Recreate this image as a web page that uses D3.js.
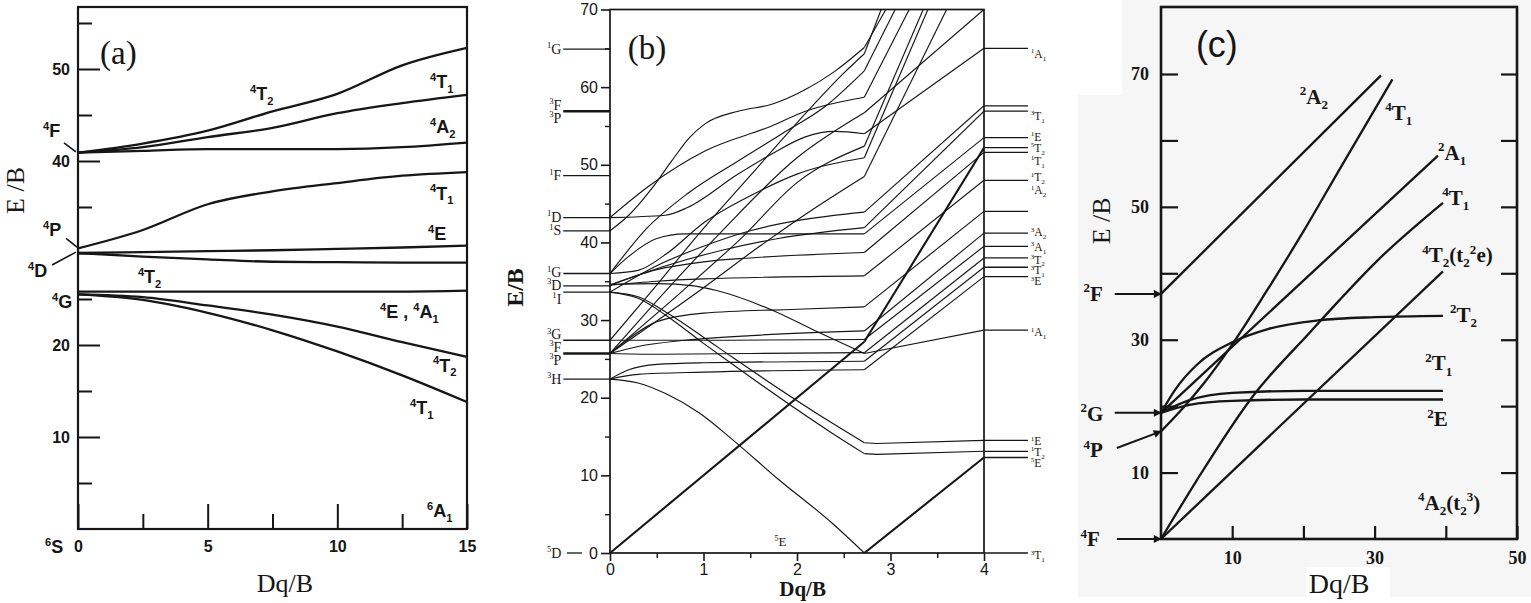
<!DOCTYPE html>
<html>
<head>
<meta charset="utf-8">
<script src="https://cdn.jsdelivr.net/npm/d3@7"></script>
<style>
  body { margin: 0; background: #fff; }
  svg { display: block; }
</style>
</head>
<body>
<div id="chart"></div>
<script>
// ---------- (a) d5 : E/B against Dq/B ----------
const a_dq = [0, 2.5, 5, 7.5, 10, 12.5, 15];
const a_4T2_F = [40.9, 41.9, 43.3, 45.4, 47.3, 50.4, 52.3];
const a_4T1_F = [40.9, 41.5, 42.6, 43.6, 45.2, 46.3, 47.2];
const a_4A2_F = [40.9, 41.1, 41.3, 41.3, 41.3, 41.5, 42.0];
const a_4T1_P = [30.5, 32.5, 35.3, 36.7, 37.6, 38.4, 38.8];
const a_4E_D  = [30.0, 30.1, 30.2, 30.3, 30.45, 30.6, 30.8];
const a_4T2_D = [30.0, 29.6, 29.3, 29.05, 29.0, 28.95, 28.95];
const a_4E4A1_G = [25.8, 25.8, 25.8, 25.8, 25.8, 25.8, 25.9];
const a_4T2_G = [25.5, 25.2, 24.3, 23.3, 22.0, 20.3, 18.7];
const a_4T1_G = [25.5, 24.9, 23.5, 21.6, 19.3, 16.7, 13.8];
const a_yMajor = [10, 20, 30, 40, 50];
const a_yLabeled = [10, 20, 40, 50];
const a_yMinor = [5, 15, 25, 35, 45, 55];
const a_xMajor = [0, 5, 10, 15];
const a_xMinor = [2.5, 7.5, 12.5];

// ---------- (b) d6 ----------
const KINK = 2.72;
const b_leftTerms  = ["^1G", "^3F", "^3P", "^1F", "^1D", "^1S", "^1G", "^3D", "^1I", "^3G", "^3F", "^3P", "^3H", "^5D"];
const b_leftTermE  = [64.9, 57.7, 56.0, 48.6, 43.2, 41.5, 36.1, 34.5, 32.7, 28.1, 26.5, 24.8, 22.4, 0];
const b_leftLevels = [64.9, 56.9, 48.6, 43.2, 41.5, 36.0, 34.4, 33.6, 27.4, 25.7, 22.4];
const b_leftPairs  = [56.9, 25.7];   // two terms on one level
const b_rightLevels = [65.0, 57.6, 56.9, 53.5, 52.2, 51.6, 48.0, 44.0, 41.2, 39.5, 38.0, 36.8, 35.6, 28.7, 14.5, 13.1, 12.3, 0];
const b_rightTerms = ["^1A_1", "^3T_1", "^1E", "^5T_2", "^1T_1", "^1T_2", "^1A_2", "^3A_2", "^3A_1", "^3T_2", "^3T_1", "^3E", "^1A_1", "^1E", "^1T_2", "^5E", "^3T_1"];
const b_rightTermE = [64.3, 56.3, 53.6, 52.2, 50.5, 48.4, 46.7, 41.3, 39.4, 37.8, 36.4, 35.0, 28.4, 14.4, 13.0, 11.6, -0.3];
const b_yMajor = [0, 10, 20, 30, 40, 50, 60, 70];
const b_yMinor = [5, 15, 25, 35, 45, 55, 65];
const b_xMajor = [0, 1, 2, 3, 4];
const b_xMinor = [0.5, 1.5, 2.5, 3.5];

const b_quintet = [
  [[0, 0], [4, 0]],
  [[0, 0], [2.72, 27.2], [4, 52.2]],
  [[2.72, 0], [4, 12.3]]
];
const b_lowLines = [
  [[0, 22.4], [0.3, 21.9], [0.6, 20.5], [0.96, 18.0], [1.31, 14.6], [1.8, 9.5], [2.38, 3.8], [2.72, 0]],
  [[0, 22.4], [0.3, 23.0], [1, 23.3], [2.72, 23.6], [4, 35.6]],
  [[0, 22.4], [0.2, 23.6], [0.5, 24.3], [1, 24.5], [2.72, 24.7], [4, 36.8]],
  [[0, 25.7], [0.5, 25.6], [1.5, 25.7], [2.72, 25.8], [4, 38.0]],
  [[0, 27.4], [1.0, 27.4], [2.72, 27.5], [4, 39.5]],
  [[0, 25.7], [0.3, 26.6], [0.8, 27.4], [1.5, 28.0], [2.72, 28.6], [4, 41.2]],
  [[0, 25.7], [0.2, 27.6], [0.5, 29.8], [1, 30.9], [2, 31.4], [2.72, 31.7], [4, 44.0]]
];
const b_fallingLines = [
  [[0, 34.6], [0.5, 34.7], [0.9, 34.4], [1.14, 33.8], [1.73, 31.3], [2.2, 28.6], [2.72, 25.7], [4, 28.7]],
  [[0, 33.6], [0.3, 33.0], [0.6, 31.0], [1.0, 27.8], [1.31, 25.2], [2.38, 16.7], [2.72, 14.2], [2.85, 14.1], [4, 14.5]],
  [[0, 33.6], [0.3, 32.8], [0.6, 30.6], [1.0, 27.0], [1.31, 24.3], [2.38, 15.4], [2.72, 12.8], [2.85, 12.7], [4, 13.1]]
];
const b_midLines = [
  [[0, 36.0], [0.2, 38.2], [0.5, 40.5], [0.8, 41.1], [2.72, 41.1], [4, 53.5]],
  [[0, 34.5], [0.5, 36.5], [1.0, 37.5], [1.5, 38.0], [2.72, 38.7], [4, 51.6]],
  [[0, 34.5], [0.5, 35.0], [1, 35.3], [2.72, 35.7], [4, 48.0]],
  [[0, 33.6], [0.5, 37], [1, 39.5], [1.5, 41.5], [2.0, 42.8], [2.72, 43.9], [4, 57.6]],
  [[0, 34.5], [0.6, 37], [1.2, 39], [1.8, 40.5], [2.72, 41.9], [4, 56.9]]
];
const b_upperLines = [
  [[0, 41.5], [0.2, 43.5], [0.45, 47], [0.66, 50.5], [0.85, 53.5], [1.02, 55.3], [1.37, 56.9], [1.73, 57.8], [2.09, 59.7], [2.4, 62], [2.72, 65.1], [2.95, 70]],
  [[0, 43.2], [0.59, 43.5], [0.83, 44.5], [1.37, 48.8], [1.73, 51.4], [2.09, 53.6], [2.4, 54.3], [2.72, 54.0], [4, 65.0]],
  [[0, 43.2], [0.41, 47.2], [1.02, 51.8], [1.73, 55.0], [2.09, 56.9], [2.72, 58.7], [3.2, 70]],
  [[0, 36.0], [0.4, 41.9], [0.83, 46.3], [1.37, 50.5], [1.84, 54], [2.3, 57.5], [2.72, 62.1], [3.05, 70]],
  [[0, 36.0], [0.3, 36.4], [0.6, 38.5], [1.0, 42.5], [1.5, 46.0], [2.0, 48.8], [2.72, 50.9], [3.4, 70]]
];
const b_steepLines = [
  [[0, 27.4], [0.45, 33.8], [1.0, 41.8], [1.5, 48.6], [2.0, 55.4], [2.5, 61.8], [2.72, 64.3], [2.9, 70]],
  [[0, 25.7], [0.6, 33.8], [1.2, 41.5], [2.0, 50.9], [2.72, 56.7], [4, 70]],
  [[0, 25.7], [0.78, 33.8], [1.4, 40.5], [2.0, 47.7], [2.72, 52.4], [3.35, 70]],
  [[0, 25.7], [0.96, 33.8], [1.6, 39.5], [2.2, 44.5], [2.72, 48.5], [3.6, 70]]
];

// ---------- (c) d3 ----------
const c_2A2  = [[0, 36.9], [30.9, 69.8]];
const c_4T1P = [[0, 16.2], [3, 19.6], [6, 23.4], [9.7, 28.8], [15, 37.6], [20, 46.3], [25, 55.5], [32.5, 69.2]];
const c_2A1  = [[0, 19.0], [38.9, 57.7]];
const c_4T1F = [[0, 0], [5, 8.8], [12.9, 21.5], [21, 31.2], [25.1, 36], [30, 41.5], [39.6, 50.6]];
const c_4T2  = [[0, 0], [39.6, 40.3]];
const c_2T2  = [[0, 19.0], [2, 22.5], [5, 26.2], [10, 29.6], [15, 31.6], [22, 32.9], [30, 33.4], [39.6, 33.6]];
const c_2T1  = [[0, 19.0], [4, 20.9], [10, 22.0], [20, 22.3], [39.6, 22.3]];
const c_2E   = [[0, 19.0], [4, 20.2], [10, 20.8], [20, 21.0], [39.6, 21.0]];
const c_yTicks = [10, 20, 30, 40, 50, 60, 70];
const c_yLabeled = [10, 30, 50, 70];
const c_xTicks = [10, 20, 30, 40, 50];
const c_xLabeled = [10, 30, 50];

// annotations (text placed in data units of each panel)
const a_notes = [
  ["^4T_2", 6.63, 46.6], ["^4T_1", 13.57, 47.9], ["^4A_2", 13.57, 43.0], ["^4T_1", 13.57, 35.8],
  ["^4E", 13.5, 31.4], ["^4T_2", 2.31, 26.7], ["^4E , ^4A_1", 11.65, 22.9], ["^4T_2", 13.69, 17.1],
  ["^4T_1", 12.8, 12.5], ["^6A_1", 13.46, 1.3],
  ["^4F", -1.35, 42.6], ["^4P", -1.35, 31.8], ["^4D", -1.93, 27.4], ["^4G", -1.0, 24.0], ["^6S", -1.27, -2.6]
];
const a_leaders = [
  [[-0.54, 41.96], [-0.08, 40.98]],
  [[-0.46, 31.6], [-0.04, 30.65]],
  [[-1.0, 28.7], [-0.08, 30.1]]
];
const c_notes = [
  ["^2A_2", 19.5, 65.5], ["^4T_1", 31.5, 63.1], ["^2A_1", 38.9, 57.1], ["^4T_1", 39.5, 50.3],
  ["^4T_2(t_2^2e)", 36.7, 41.7], ["^2T_2", 40.6, 32.7], ["^2T_1", 37.1, 25.4], ["^2E", 37.4, 17.0],
  ["^4A_2(t_2^3)", 36.1, 4.4],
  ["^2F", -10.9, 35.9], ["^2G", -11.3, 17.8], ["^4P", -10.9, 12.3], ["^4F", -11.3, -1.1]
];
const c_arrows = [
  [[-6.5, 36.9], [0, 36.9]],
  [[-6.5, 19.0], [0, 19.0]],
  [[-6.2, 13.7], [0, 16.2]],
  [[-6.2, 0], [0, 0]]
];

const ink = "#161616";
const svg = d3.select("#chart").append("svg")
    .attr("width", 1531)
    .attr("height", 603);

// text with ^superscript and _subscript characters
function rich(g, x, y, str, size, font, weight, anchor) {
  const t = g.append("text")
      .attr("x", x).attr("y", y)
      .attr("font-size", size)
      .attr("font-family", font)
      .attr("font-weight", weight || "normal")
      .attr("text-anchor", anchor || "start")
      .attr("fill", ink);
  const parts = str.match(/\^.|_.|[^\^_]+/g);
  let shift = 0;
  parts.forEach(function(p) {
    let mode = 0, txt = p;
    if (p[0] === "^") { mode = -1; txt = p.slice(1); }
    else if (p[0] === "_") { mode = 1; txt = p.slice(1); }
    const off = mode < 0 ? -size * 0.4 : (mode > 0 ? size * 0.25 : 0);
    t.append("tspan")
        .attr("dy", off - shift)
        .attr("font-size", mode ? size * 0.62 : size)
        .text(txt);
    shift = off;
  });
  return t;
}

function styleAxis(g, size, font, weight) {
  g.attr("color", ink).attr("font-size", size).attr("font-family", font).attr("font-weight", weight || "normal");
  g.select(".domain").remove();
}

// ============ panel (a) ============
const xA = d3.scaleLinear().domain([0, 15]).range([78, 467]);
const yA = d3.scaleLinear().domain([0, 50]).range([529, 69]);
const ga = svg.append("g");

ga.append("g").attr("transform", `translate(${xA(0)},0)`)
    .call(d3.axisLeft(yA).tickValues(a_yMajor).tickSize(-22).tickPadding(8)
        .tickFormat(d => a_yLabeled.includes(d) ? d : ""))
    .call(g => styleAxis(g, 16, "'Liberation Sans Narrow','Liberation Sans',Arial", "bold"))
    .selectAll("line").attr("stroke-width", 2);
ga.append("g").attr("transform", `translate(${xA(0)},0)`)
    .call(d3.axisLeft(yA).tickValues(a_yMinor).tickSize(-14).tickFormat(""))
    .call(g => styleAxis(g, 10, "sans-serif"))
    .selectAll("line").attr("stroke-width", 2);
ga.append("g").attr("transform", `translate(0,${yA(0)})`)
    .call(d3.axisBottom(xA).tickValues(a_xMajor).tickSize(-25).tickPadding(12))
    .call(g => styleAxis(g, 16, "'Liberation Sans Narrow','Liberation Sans',Arial", "bold"))
    .selectAll("line").attr("stroke-width", 2);
ga.append("g").attr("transform", `translate(0,${yA(0)})`)
    .call(d3.axisBottom(xA).tickValues(a_xMinor).tickSize(-15).tickFormat(""))
    .call(g => styleAxis(g, 10, "sans-serif"))
    .selectAll("line").attr("stroke-width", 2);

ga.append("rect")
    .attr("x", xA(0)).attr("y", 7)
    .attr("width", xA(15) - xA(0)).attr("height", yA(0) - 7)
    .attr("fill", "none").attr("stroke", ink).attr("stroke-width", 2.2);

const lineA = d3.line().x((d, i) => xA(a_dq[i])).y(d => yA(d)).curve(d3.curveMonotoneX);
[a_4T2_F, a_4T1_F, a_4A2_F, a_4T1_P, a_4E_D, a_4T2_D, a_4E4A1_G, a_4T2_G, a_4T1_G].forEach(function(s) {
  ga.append("path").attr("d", lineA(s))
      .attr("fill", "none").attr("stroke", ink).attr("stroke-width", 2.3);
});
a_leaders.forEach(function(l) {
  ga.append("line")
      .attr("x1", xA(l[0][0])).attr("y1", yA(l[0][1]))
      .attr("x2", xA(l[1][0])).attr("y2", yA(l[1][1]))
      .attr("stroke", ink).attr("stroke-width", 1.6);
});
a_notes.forEach(function(n) {
  rich(ga, xA(n[1]), yA(n[2]), n[0], 18, "'Liberation Sans',Arial", "bold");
});
ga.append("text").attr("x", xA(0.85)).attr("y", yA(50.5))
    .attr("font-family", "'Liberation Serif'").attr("font-size", 33).attr("fill", ink).text("(a)");
ga.append("text").attr("x", xA(7.98)).attr("y", yA(-6.85)).attr("text-anchor", "middle")
    .attr("font-family", "'Liberation Serif'").attr("font-size", 26).attr("fill", ink).text("Dq/B");
ga.append("text").attr("transform", `translate(${xA(-2.08)},${yA(36.8)}) rotate(-90)`).attr("text-anchor", "middle")
    .attr("font-family", "'Liberation Serif'").attr("font-size", 26).attr("fill", ink).text("E /B");

// ============ panel (b) ============
const xB = d3.scaleLinear().domain([0, 4]).range([610, 984]);
const yB = d3.scaleLinear().domain([0, 70]).range([553, 9.5]);
const gb = svg.append("g");

gb.append("g").attr("transform", `translate(${xB(0)},0)`)
    .call(d3.axisLeft(yB).tickValues(b_yMajor).tickSize(9).tickPadding(3))
    .call(g => styleAxis(g, 16, "'Liberation Sans',Arial"))
    .selectAll("line").attr("stroke-width", 1.6);
gb.append("g").attr("transform", `translate(${xB(0)},0)`)
    .call(d3.axisLeft(yB).tickValues(b_yMinor).tickSize(5).tickFormat(""))
    .call(g => styleAxis(g, 10, "sans-serif"))
    .selectAll("line").attr("stroke-width", 1.4);
gb.append("g").attr("transform", `translate(0,${yB(0)})`)
    .call(d3.axisBottom(xB).tickValues(b_xMajor).tickSize(8).tickPadding(3).tickFormat(d3.format("d")))
    .call(g => styleAxis(g, 16, "'Liberation Sans',Arial"))
    .selectAll("line").attr("stroke-width", 1.6);
gb.append("g").attr("transform", `translate(0,${yB(0)})`)
    .call(d3.axisBottom(xB).tickValues(b_xMinor).tickSize(5).tickFormat(""))
    .call(g => styleAxis(g, 10, "sans-serif"))
    .selectAll("line").attr("stroke-width", 1.4);

gb.append("rect")
    .attr("x", xB(0)).attr("y", yB(70))
    .attr("width", xB(4) - xB(0)).attr("height", yB(0) - yB(70))
    .attr("fill", "none").attr("stroke", ink).attr("stroke-width", 1.7);

gb.append("clipPath").attr("id", "clipB")
    .append("rect").attr("x", xB(0)).attr("y", yB(70))
    .attr("width", xB(4) - xB(0)).attr("height", yB(0) - yB(70));
const gbl = gb.append("g").attr("clip-path", "url(#clipB)");

const smoothB = d3.line().x(d => xB(d[0])).y(d => yB(d[1])).curve(d3.curveMonotoneX);
const straightB = d3.line().x(d => xB(d[0])).y(d => yB(d[1]));
function drawB(pts, w) {
  // smooth up to the spin crossover, straight after it
  const pre = pts.filter(p => p[0] <= KINK + 1e-9);
  const post = pts.filter(p => p[0] >= KINK - 1e-9);
  if (pre.length > 1) gbl.append("path").attr("d", smoothB(pre))
      .attr("fill", "none").attr("stroke", ink).attr("stroke-width", w);
  if (post.length > 1) gbl.append("path").attr("d", straightB(post))
      .attr("fill", "none").attr("stroke", ink).attr("stroke-width", w);
}
[b_lowLines, b_fallingLines, b_midLines, b_upperLines, b_steepLines].forEach(group => group.forEach(p => drawB(p, 1.15)));
b_quintet.forEach(p => drawB(p, 2.1));

// term levels at both ends
b_leftLevels.forEach(function(e) {
  gb.append("line").attr("x1", xB(-0.5)).attr("x2", xB(0)).attr("y1", yB(e)).attr("y2", yB(e))
      .attr("stroke", ink).attr("stroke-width", b_leftPairs.includes(e) ? 2.4 : 1.3);
});
gb.append("line").attr("x1", xB(-0.46)).attr("x2", xB(-0.3)).attr("y1", yB(0)).attr("y2", yB(0))
    .attr("stroke", ink).attr("stroke-width", 1.3);
b_leftTerms.forEach(function(t, i) {
  rich(gb, xB(-0.52), yB(b_leftTermE[i]) + 4.5, t, 14, "'Liberation Serif'", "normal", "end");
});
b_rightLevels.forEach(function(e) {
  gb.append("line").attr("x1", xB(4)).attr("x2", xB(4.47)).attr("y1", yB(e)).attr("y2", yB(e))
      .attr("stroke", ink).attr("stroke-width", 1.3);
});
b_rightTerms.forEach(function(t, i) {
  rich(gb, xB(4.5), yB(b_rightTermE[i]) + 4, t, 11.5, "'Liberation Serif'");
});
rich(gb, xB(1.76), yB(1.4) + 4, "^5E", 13, "'Liberation Serif'");

gb.append("text").attr("x", xB(0.19)).attr("y", yB(63.6))
    .attr("font-family", "'Liberation Serif'").attr("font-size", 33).attr("fill", ink).text("(b)");
gb.append("text").attr("x", xB(2.06)).attr("y", yB(-5.5)).attr("text-anchor", "middle")
    .attr("font-family", "'Liberation Serif'").attr("font-weight", "bold").attr("font-size", 21).attr("fill", ink).text("Dq/B");
gb.append("text").attr("transform", `translate(${xB(-0.93)},${yB(34.2)}) rotate(-90)`).attr("text-anchor", "middle")
    .attr("font-family", "'Liberation Serif'").attr("font-weight", "bold").attr("font-size", 24).attr("fill", ink).text("E/B");

// ============ panel (c) ============
const xC = d3.scaleLinear().domain([0, 50]).range([1161, 1517]);
const yC = d3.scaleLinear().domain([0, 70]).range([539, 74]);
const gc = svg.append("g");

// the scanned panel sits on a faint grey sheet
gc.append("path")
    .attr("d", "M1122,0H1531V597H1078V95H1122Z")
    .attr("fill", "#f6f6f6");
gc.append("rect").attr("x", 1306).attr("y", 567).attr("width", 84).attr("height", 30).attr("fill", "#fff");

gc.append("g").attr("transform", `translate(${xC(0)},0)`)
    .call(d3.axisLeft(yC).tickValues(c_yTicks).tickSize(-17).tickPadding(12)
        .tickFormat(d => c_yLabeled.includes(d) ? d : ""))
    .call(g => styleAxis(g, 18, "'Liberation Serif'", "bold"))
    .selectAll("line").attr("stroke-width", 2.2);
gc.append("g").attr("transform", `translate(${xC(50)},0)`)
    .call(d3.axisRight(yC).tickValues(c_yTicks).tickSize(-16).tickFormat(""))
    .call(g => styleAxis(g, 10, "sans-serif"))
    .selectAll("line").attr("stroke-width", 2.2);
gc.append("g").attr("transform", `translate(0,${yC(0)})`)
    .call(d3.axisBottom(xC).tickValues(c_xTicks).tickSize(-13).tickPadding(12)
        .tickFormat(d => c_xLabeled.includes(d) ? d : ""))
    .call(g => styleAxis(g, 18, "'Liberation Serif'", "bold"))
    .selectAll("line").attr("stroke-width", 2.2);

gc.append("rect")
    .attr("x", xC(0)).attr("y", 7)
    .attr("width", xC(50) - xC(0)).attr("height", yC(0) - 7)
    .attr("fill", "none").attr("stroke", ink).attr("stroke-width", 2.6);

const lineC = d3.line().x(d => xC(d[0])).y(d => yC(d[1])).curve(d3.curveMonotoneX);
[c_2A2, c_4T1P, c_2A1, c_4T1F, c_4T2, c_2T2, c_2T1, c_2E].forEach(function(s) {
  gc.append("path").attr("d", lineC(s))
      .attr("fill", "none").attr("stroke", ink).attr("stroke-width", 2.3);
});

svg.append("defs").append("marker")
    .attr("id", "arrowC").attr("viewBox", "0 0 10 10")
    .attr("refX", 9).attr("refY", 5)
    .attr("markerWidth", 11).attr("markerHeight", 8)
    .attr("markerUnits", "userSpaceOnUse").attr("orient", "auto")
    .append("path").attr("d", "M0,0L10,5L0,10Z").attr("fill", ink);
c_arrows.forEach(function(a) {
  gc.append("line")
      .attr("x1", xC(a[0][0])).attr("y1", yC(a[0][1]))
      .attr("x2", xC(a[1][0])).attr("y2", yC(a[1][1]))
      .attr("stroke", ink).attr("stroke-width", 2)
      .attr("marker-end", "url(#arrowC)");
});
c_notes.forEach(function(n) {
  rich(gc, xC(n[1]), yC(n[2]), n[0], 21, "'Liberation Serif'", "bold");
});
gc.append("text").attr("x", xC(4.9)).attr("y", yC(72.5))
    .attr("font-family", "'Liberation Sans',Arial").attr("font-size", 36).attr("fill", ink).text("(c)");
gc.append("text").attr("x", xC(25.0)).attr("y", yC(-8.1)).attr("text-anchor", "middle")
    .attr("font-family", "'Liberation Serif'").attr("font-size", 28).attr("fill", ink).text("Dq/B");
gc.append("text").attr("transform", `translate(${xC(-7.2)},${yC(47.9)}) rotate(-90)`).attr("text-anchor", "middle")
    .attr("font-family", "'Liberation Serif'").attr("font-size", 26).attr("fill", ink).text("E /B");
</script>
</body>
</html>
